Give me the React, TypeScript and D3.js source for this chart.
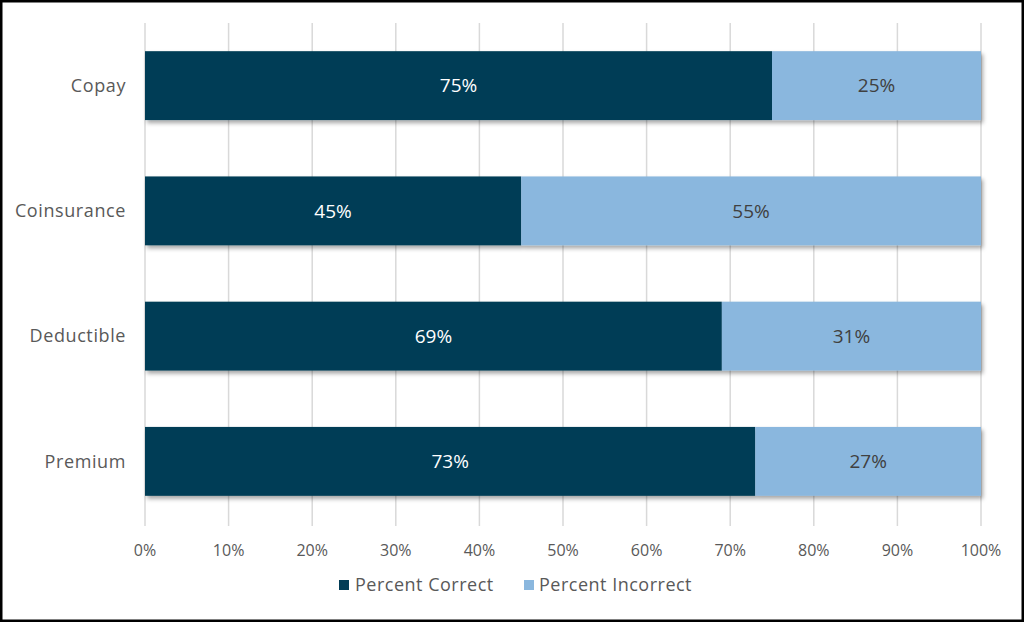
import React from 'react';
import * as d3 from 'd3';

const categories = ['Copay', 'Coinsurance', 'Deductible', 'Premium'];
const percentCorrect = [75, 45, 69, 73];
const percentIncorrect = [25, 55, 31, 27];
const xTicks = [0, 10, 20, 30, 40, 50, 60, 70, 80, 90, 100];
const seriesNames = ['Percent Correct', 'Percent Incorrect'];

const WIDTH = 1024;
const HEIGHT = 622;
const FONT = '"Open Sans", Roboto, sans-serif';
const DARK = '#023d56';
const LIGHT = '#8ab7de';

export default function App() {
  const margin = { top: 23, right: 43, bottom: 98, left: 145 };
  const innerW = WIDTH - margin.left - margin.right;
  const innerH = HEIGHT - margin.top - margin.bottom;

  const x = d3.scaleLinear().domain([0, 100]).range([0, innerW]);
  const y = d3.scaleBand().domain(categories).range([0, innerH]).paddingInner(0.45).paddingOuter(0.225);

  const rows = categories.map((c, i) => ({
    cat: c,
    correct: percentCorrect[i],
    incorrect: percentIncorrect[i],
  }));

  return (
    <div style={{ position: 'absolute', left: 0, top: 0 }}>
      <svg width={WIDTH} height={HEIGHT} style={{ display: 'block', fontFamily: FONT }}>
        <defs>
          <filter id="shadow" x="-5%" y="-20%" width="110%" height="150%">
            <feDropShadow dx="2" dy="3" stdDeviation="2" floodColor="#000" floodOpacity="0.35" />
          </filter>
        </defs>
        <rect x={1} y={1} width={WIDTH - 2} height={HEIGHT - 2} fill="#fff" stroke="#000" strokeWidth={3} />
        <g transform={`translate(${margin.left},${margin.top})`}>
          {xTicks.map((t) => (
            <g key={t}>
              <line x1={x(t)} x2={x(t)} y1={0} y2={innerH + 2} stroke="#d9d9d9" strokeWidth={1.5} />
              <text x={x(t)} y={innerH + 32} textAnchor="middle" fontSize={16} fill="#595959">
                {t}%
              </text>
            </g>
          ))}
          {rows.map((r) => (
            <g key={r.cat} filter="url(#shadow)">
              <rect x={x(0)} y={y(r.cat)!} width={x(r.correct) - x(0)} height={y.bandwidth()} fill={DARK} />
              <rect
                x={x(r.correct)}
                y={y(r.cat)!}
                width={x(r.correct + r.incorrect) - x(r.correct)}
                height={y.bandwidth()}
                fill={LIGHT}
              />
            </g>
          ))}
          {rows.map((r) => {
            const cy = y(r.cat)! + y.bandwidth() / 2;
            return (
              <g key={r.cat + '-lbl'}>
                <text x={-19} y={cy} dy="0.35em" textAnchor="end" fontSize={18} letterSpacing={0.6} fill="#595959">
                  {r.cat}
                </text>
                <text x={x(r.correct / 2)} y={cy} dy="0.35em" textAnchor="middle" fontSize={19} fill="#fff">
                  {r.correct}%
                </text>
                <text
                  x={x(r.correct + r.incorrect / 2)}
                  y={cy}
                  dy="0.35em"
                  textAnchor="middle"
                  fontSize={19}
                  fill="#404040"
                >
                  {r.incorrect}%
                </text>
              </g>
            );
          })}
        </g>
        <g transform="translate(339,585)">
          <rect x={0} y={-5} width={10} height={10} fill={DARK} />
          <text x={16} y={0} dy="0.35em" fontSize={18} letterSpacing={0.5} fill="#595959">
            {seriesNames[0]}
          </text>
          <rect x={185} y={-5} width={10} height={10} fill={LIGHT} />
          <text x={200} y={0} dy="0.35em" fontSize={18} letterSpacing={0.5} fill="#595959">
            {seriesNames[1]}
          </text>
        </g>
      </svg>
    </div>
  );
}
